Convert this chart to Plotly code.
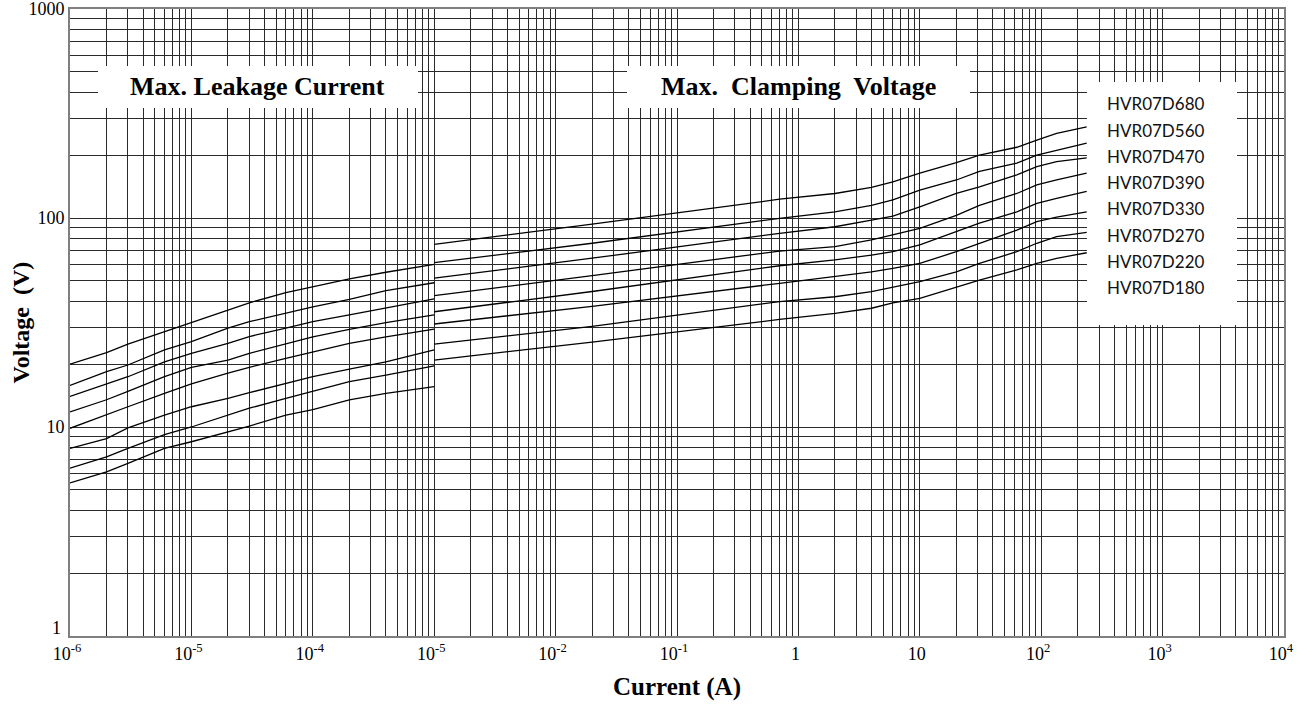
import plotly.graph_objects as go

# ---------------- data ----------------
series_names = ["HVR07D680", "HVR07D560", "HVR07D470", "HVR07D390",
                "HVR07D330", "HVR07D270", "HVR07D220", "HVR07D180"]

# Max. leakage current region
leak_current = [1e-6, 2e-6, 3e-6, 6e-6, 1e-5, 2e-5, 3e-5, 6e-5, 1e-4, 2e-4, 4e-4, 1e-3]
leak_v_680 = [20.0, 22.7, 24.9, 28.6, 31.6, 36.3, 39.3, 44.0, 46.9, 51.1, 55.0, 60.0]
leak_v_560 = [15.8, 18.4, 19.8, 23.4, 25.6, 29.7, 31.9, 35.2, 37.6, 40.8, 44.9, 49.0]
leak_v_470 = [14.0, 16.1, 17.4, 20.5, 22.5, 25.1, 27.1, 29.7, 31.9, 34.4, 37.2, 41.0]
leak_v_390 = [11.8, 13.5, 14.8, 17.4, 19.3, 20.9, 22.5, 25.1, 27.0, 29.3, 31.6, 34.4]
leak_v_330 = [9.86, 11.4, 12.5, 14.5, 16.1, 18.1, 19.3, 21.3, 22.9, 25.1, 27.0, 29.4]
leak_v_270 = [7.9, 8.8, 9.9, 11.4, 12.5, 13.7, 14.6, 16.2, 17.4, 18.9, 20.5, 23.4]
leak_v_220 = [6.35, 7.2, 7.9, 9.2, 10.0, 11.4, 12.3, 13.7, 14.8, 16.5, 17.7, 19.6]
leak_v_180 = [5.4, 6.1, 6.7, 7.9, 8.5, 9.5, 10.1, 11.4, 12.1, 13.5, 14.5, 15.6]

# Max. clamping voltage region
clamp_current = [1e-3, 0.02, 0.7, 2, 4, 6, 10, 20, 31, 63, 92, 134, 237]
clamp_v_680 = [74.8, 93.4, 123, 131, 140, 149, 164, 184, 200, 218, 236, 254, 273]
clamp_v_560 = [61.1, 75.7, 99.7, 107, 115, 122, 136, 152, 167, 183, 200, 211, 228]
clamp_v_470 = [51.5, 64.2, 84.5, 90.8, 97.8, 102, 113, 131, 141, 161, 176, 186, 194]
clamp_v_390 = [42.5, 53.0, 69.5, 73.0, 78.5, 83.0, 89.3, 103, 115, 131, 144, 152, 164]
clamp_v_330 = [35.6, 44.5, 59.1, 63.0, 66.5, 69.0, 74.3, 86.0, 94.4, 107, 117.5, 124, 134]
clamp_v_270 = [31.1, 37.8, 48.7, 52.4, 55.3, 57.4, 60.7, 69.0, 75.7, 87.6, 96.0, 101, 107]
clamp_v_220 = [24.9, 30.3, 39.8, 42.0, 44.4, 46.6, 49.6, 55.3, 60.7, 69.0, 75.7, 81.4, 85.3]
clamp_v_180 = [20.9, 25.5, 32.7, 35.0, 37.0, 39.3, 41.3, 46.9, 50.5, 56.4, 60.7, 64.1, 68.2]

leak_series = [leak_v_680, leak_v_560, leak_v_470, leak_v_390,
               leak_v_330, leak_v_270, leak_v_220, leak_v_180]
clamp_series = [clamp_v_680, clamp_v_560, clamp_v_470, clamp_v_390,
                clamp_v_330, clamp_v_270, clamp_v_220, clamp_v_180]

x_major_labels = ["10<sup>-6</sup>", "10<sup>-5</sup>", "10<sup>-4</sup>", "10<sup>-5</sup>",
                  "10<sup>-2</sup>", "10<sup>-1</sup>", "1", "10",
                  "10<sup>2</sup>", "10<sup>3</sup>", "10<sup>4</sup>"]
y_major_labels = ["1", "10", "100", "1000"]

region_titles = ["Max. Leakage Current", "Max.\u00a0 Clamping\u00a0 Voltage"]
x_title = "Current (A)"
y_title = "Voltage\u00a0 (V)"

# ---------------- axis ticks / grid ----------------
x_exps = list(range(-6, 5))
y_exps = list(range(0, 4))


def log_ticks(exps, majors):
    vals, texts = [], []
    for i, e in enumerate(exps):
        vals.append(10.0 ** e)
        texts.append(majors[i])
        if e != exps[-1]:
            for m in range(2, 10):
                vals.append(m * 10.0 ** e)
                texts.append("")
    return vals, texts


xtv, xtt = log_ticks(x_exps, x_major_labels)
ytv, ytt = log_ticks(y_exps, y_major_labels)
# the lowest y label ("1") sits slightly above its grid line in the original;
# draw it as an annotation so it does not collide with the first x label
ytt_axis = ["" if v == 1.0 else t for v, t in zip(ytv, ytt)]

SERIF = "Liberation Serif, Times New Roman, serif"
SANS = "Lato, Carlito, Calibri, sans-serif"

fig = go.Figure()
for vl, vc in zip(leak_series, clamp_series):
    fig.add_trace(go.Scatter(x=leak_current, y=vl, mode="lines",
                             line=dict(color="black", width=1.3), hoverinfo="skip"))
    fig.add_trace(go.Scatter(x=clamp_current, y=vc, mode="lines",
                             line=dict(color="black", width=1.3), hoverinfo="skip"))

# plot area in pixels: x 70..1284, y 9..636
PX0, PX1, PY0, PY1 = 70, 1284, 9, 636


def px(xp):
    return (xp - PX0) / (PX1 - PX0)


def py(yp):
    return (PY1 - yp) / (PY1 - PY0)


boxes = [(98, 418, 66, 108), (627, 970, 66, 108), (1087, 1237, 82, 325)]
shapes = []
for (x0, x1, y0, y1) in boxes:
    shapes.append(dict(type="rect", xref="paper", yref="paper",
                       x0=px(x0), x1=px(x1), y0=py(y1), y1=py(y0),
                       fillcolor="white", line=dict(width=0), layer="above"))

annotations = [
    dict(text="<b>" + region_titles[0] + "</b>", xref="paper", yref="paper",
         x=px(257), y=py(87), showarrow=False, xanchor="center", yanchor="middle",
         font=dict(family=SERIF, size=26, color="black")),
    dict(text="<b>" + region_titles[1] + "</b>", xref="paper", yref="paper",
         x=px(798), y=py(87), showarrow=False, xanchor="center", yanchor="middle",
         font=dict(family=SERIF, size=26, color="black")),
    dict(text=y_major_labels[0], xref="paper", yref="y", x=0, y=0,
         xanchor="right", yanchor="middle", xshift=-7, yshift=8, showarrow=False,
         font=dict(family=SERIF, size=18, color="black")),
    dict(text="<b>" + y_title + "</b>", xref="paper", yref="paper",
         x=px(20), y=0.5, xanchor="center", yanchor="middle", textangle=-90,
         showarrow=False, font=dict(family=SERIF, size=24, color="black")),
]
for i, name in enumerate(series_names):
    annotations.append(dict(text=name, xref="paper", yref="paper",
                            x=px(1105), y=py(104 + i * 26.2), showarrow=False,
                            xanchor="left", yanchor="middle",
                            font=dict(family=SANS, size=17, color="#111")))

axis_common = dict(type="log", showgrid=True, gridcolor="#2a2a2a", gridwidth=1,
                   showline=True, linecolor="#7f7f7f", linewidth=2, mirror=True,
                   ticks="", zeroline=False, automargin=False,
                   ticklabeloverflow="allow",
                   tickfont=dict(family=SERIF, size=18, color="black"))

fig.update_layout(
    width=1297, height=706,
    margin=dict(l=PX0, r=1297 - PX1, t=PY0, b=706 - PY1),
    paper_bgcolor="white", plot_bgcolor="white",
    showlegend=False,
    xaxis=dict(range=[-6, 4], tickmode="array", tickvals=xtv, ticktext=xtt,
               ticklabelshift=-3,
               title=dict(text="<b>" + x_title + "</b>",
                          font=dict(family=SERIF, size=25, color="black")),
               **axis_common),
    yaxis=dict(range=[0, 3], tickmode="array", tickvals=ytv, ticktext=ytt_axis,
               **axis_common),
    shapes=shapes,
    annotations=annotations,
)

fig.write_html("out.html", config={"displayModeBar": False},
               post_script="document.body.style.margin='0';document.body.style.overflow='hidden';")
